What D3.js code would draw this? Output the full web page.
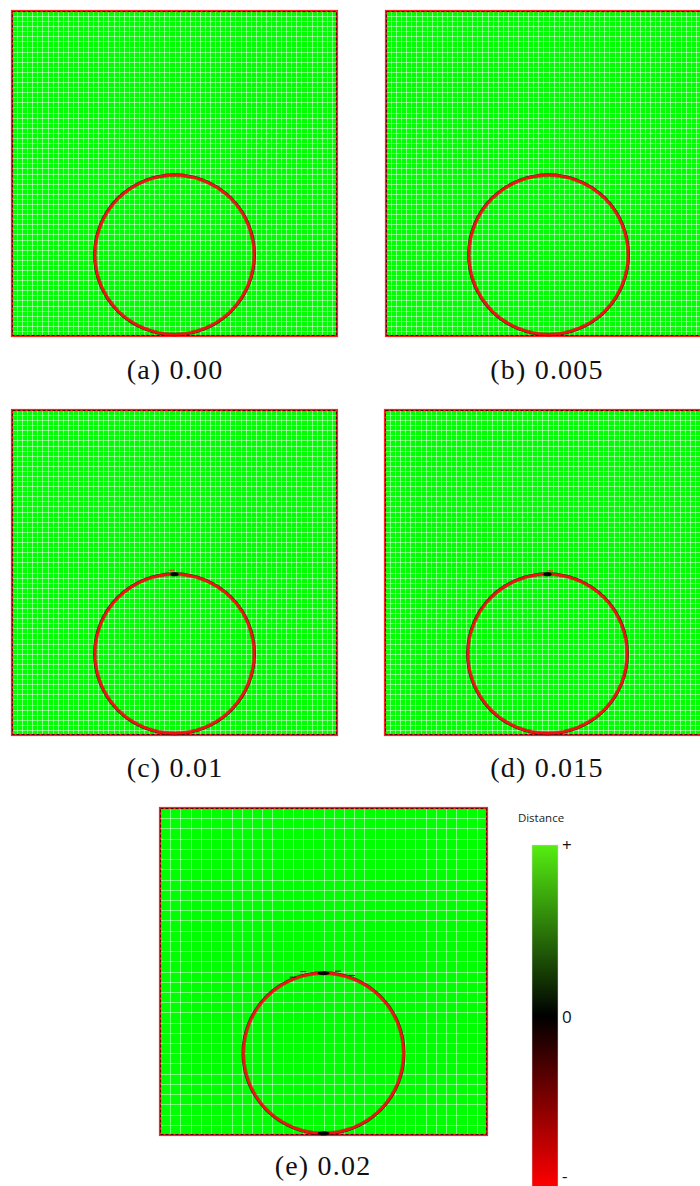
<!DOCTYPE html>
<html>
<head>
<meta charset="utf-8">
<script src="https://cdn.jsdelivr.net/npm/d3@7"></script>
<style>
  html, body { margin: 0; padding: 0; background: #fff; }
  svg { display: block; }
</style>
</head>
<body>
<svg id="fig" width="700" height="1186"></svg>
<script>
// Level-set snapshots of a circular interface at successive times
const panelLabels = ["(a) 0.00", "(b) 0.005", "(c) 0.01", "(d) 0.015", "(e) 0.02"];
const times = [0.00, 0.005, 0.01, 0.015, 0.02];
const gridCells = [64, 64, 64, 64, 32];          // mesh cells per side
const circleCenter = [0.5, 0.25];                 // interface centre (domain units, y up)
const circleRadius = 0.245;
// angular positions (degrees) of dark spots where the interface distance crosses zero
const zeroSpots = [[], [], [90], [90], [90, 270]];
// small stray marks just outside the interface (angle deg, offset)
const strayMarks = [[], [], [[92, 0.012]], [[88, 0.010]], [[104, 0.012], [80, 0.010], [70, 0.008], [112, 0.006]]];

// colour legend
const legendTitle = "Distance";
const legendTicks = ["+", "0", "-"];
const legendValues = [1, 0, -1];
const legendColors = ["#55ee11", "#000000", "#ff0000"];

// layout
const panels = [
  { x: 12,  y: 11,  size: 325, lx: 175, ly: 379 },
  { x: 386, y: 11,  size: 325, lx: 547, ly: 379 },
  { x: 12,  y: 410, size: 325, lx: 175, ly: 777 },
  { x: 385, y: 410, size: 325, lx: 547, ly: 777 },
  { x: 160, y: 808, size: 327, lx: 323, ly: 1175 }
];

const svg = d3.select("#fig");

panels.forEach((p, i) => {
  const g = svg.append("g").attr("transform", `translate(${p.x},${p.y})`);
  const x = d3.scaleLinear().domain([0, 1]).range([0, p.size]);
  const y = d3.scaleLinear().domain([0, 1]).range([p.size, 0]);
  const n = gridCells[i];
  const lines = d3.range(1, n).map(k => k / n);

  // positive-distance field
  g.append("rect").attr("x", x(0)).attr("y", y(1))
    .attr("width", x(1) - x(0)).attr("height", y(0) - y(1))
    .attr("fill", "#00ff00");

  // mesh lines
  const grid = g.append("g").attr("stroke", "#ffffff").attr("stroke-opacity", 0.48).attr("stroke-width", 1);
  grid.selectAll("line.v").data(lines).join("line").attr("class", "v")
    .attr("x1", d => Math.round(x(d)) + 0.5).attr("x2", d => Math.round(x(d)) + 0.5)
    .attr("y1", y(1)).attr("y2", y(0));
  grid.selectAll("line.h").data(lines).join("line").attr("class", "h")
    .attr("y1", d => Math.round(y(d)) + 0.5).attr("y2", d => Math.round(y(d)) + 0.5)
    .attr("x1", x(0)).attr("x2", x(1));

  // domain boundary (zero / negative band)
  g.append("rect").attr("x", x(0)).attr("y", y(1))
    .attr("width", x(1) - x(0)).attr("height", y(0) - y(1))
    .attr("fill", "none").attr("stroke", "#ff2020").attr("stroke-width", 2.2);
  g.append("rect").attr("x", x(0) + 0.5).attr("y", y(1) + 0.5)
    .attr("width", x(1) - x(0) - 1).attr("height", y(0) - y(1) - 1)
    .attr("fill", "none").attr("stroke", "#200000").attr("stroke-width", 1)
    .attr("stroke-dasharray", "3,2").attr("stroke-opacity", 0.8);

  // interface
  const cx = x(circleCenter[0]), cy = y(circleCenter[1]);
  const r = x(circleRadius) - x(0);
  g.append("circle").attr("cx", cx).attr("cy", cy).attr("r", r + 1.3)
    .attr("fill", "none").attr("stroke", "#1a0000").attr("stroke-width", 1.2).attr("stroke-opacity", 0.75);
  g.append("circle").attr("cx", cx).attr("cy", cy).attr("r", r)
    .attr("fill", "none").attr("stroke", "#f81010").attr("stroke-width", 2.6);
  g.append("circle").attr("cx", cx).attr("cy", cy).attr("r", r - 1.5)
    .attr("fill", "none").attr("stroke", "#b00000").attr("stroke-width", 0.8).attr("stroke-opacity", 0.5);

  // zero-crossing spots on the interface
  g.selectAll("ellipse.spot").data(zeroSpots[i]).join("ellipse").attr("class", "spot")
    .attr("cx", a => x(circleCenter[0] + circleRadius * Math.cos(a * Math.PI / 180)))
    .attr("cy", a => y(circleCenter[1] + circleRadius * Math.sin(a * Math.PI / 180)))
    .attr("rx", i === 4 ? 6 : 4).attr("ry", 2)
    .attr("fill", "#000");

  // stray marks outside the interface
  g.selectAll("line.stray").data(strayMarks[i]).join("line").attr("class", "stray")
    .attr("x1", d => x(circleCenter[0] + (circleRadius + d[1]) * Math.cos(d[0] * Math.PI / 180)) - 3)
    .attr("x2", d => x(circleCenter[0] + (circleRadius + d[1]) * Math.cos(d[0] * Math.PI / 180)) + 3)
    .attr("y1", d => y(circleCenter[1] + (circleRadius + d[1]) * Math.sin(d[0] * Math.PI / 180)))
    .attr("y2", d => y(circleCenter[1] + (circleRadius + d[1]) * Math.sin(d[0] * Math.PI / 180)))
    .attr("stroke", i === 4 ? "#202020" : "#ff2020").attr("stroke-width", 1);

  // caption
  svg.append("text").attr("x", p.lx).attr("y", p.ly)
    .attr("text-anchor", "middle")
    .attr("font-family", "'Liberation Serif', 'DejaVu Serif', serif")
    .attr("font-size", 28).attr("letter-spacing", 1.2)
    .attr("fill", "#111")
    .text(panelLabels[i]);
});

// colour bar
const cb = { x: 532, y: 845, w: 26, h: 342 };
const cbScale = d3.scaleLinear().domain([1, -1]).range([cb.y, cb.y + cb.h]);
const color = d3.scaleLinear().domain(legendValues).range(legendColors).interpolate(d3.interpolateRgb);

const defs = svg.append("defs");
const grad = defs.append("linearGradient").attr("id", "distGrad")
  .attr("x1", 0).attr("y1", 0).attr("x2", 0).attr("y2", 1);
d3.range(0, 1.0001, 0.05).forEach(t => {
  const v = 1 - 2 * t;
  grad.append("stop").attr("offset", t).attr("stop-color", color(v));
});
svg.append("rect").attr("x", cb.x).attr("y", cbScale(1))
  .attr("width", cb.w).attr("height", cbScale(-1) - cbScale(1))
  .attr("fill", "url(#distGrad)")
  .attr("stroke", "#dddddd").attr("stroke-width", 0.8).attr("stroke-opacity", 0.6);

svg.append("text").attr("x", 541).attr("y", 822)
  .attr("text-anchor", "middle")
  .attr("font-family", "'Open Sans', 'Noto Sans', sans-serif")
  .attr("font-size", 11.5).attr("fill", "#222")
  .text(legendTitle);

// tick label offsets keep the bottom "-" inside the frame
const tickOffsets = [6, 7, -5];
svg.selectAll("text.cbtick").data(legendValues).join("text").attr("class", "cbtick")
  .attr("x", 562)
  .attr("y", (d, k) => cbScale(d) + tickOffsets[k])
  .attr("font-family", "'Open Sans', 'Noto Sans', sans-serif")
  .attr("font-size", 17).attr("fill", "#111")
  .text((d, k) => legendTicks[k]);
</script>
</body>
</html>
